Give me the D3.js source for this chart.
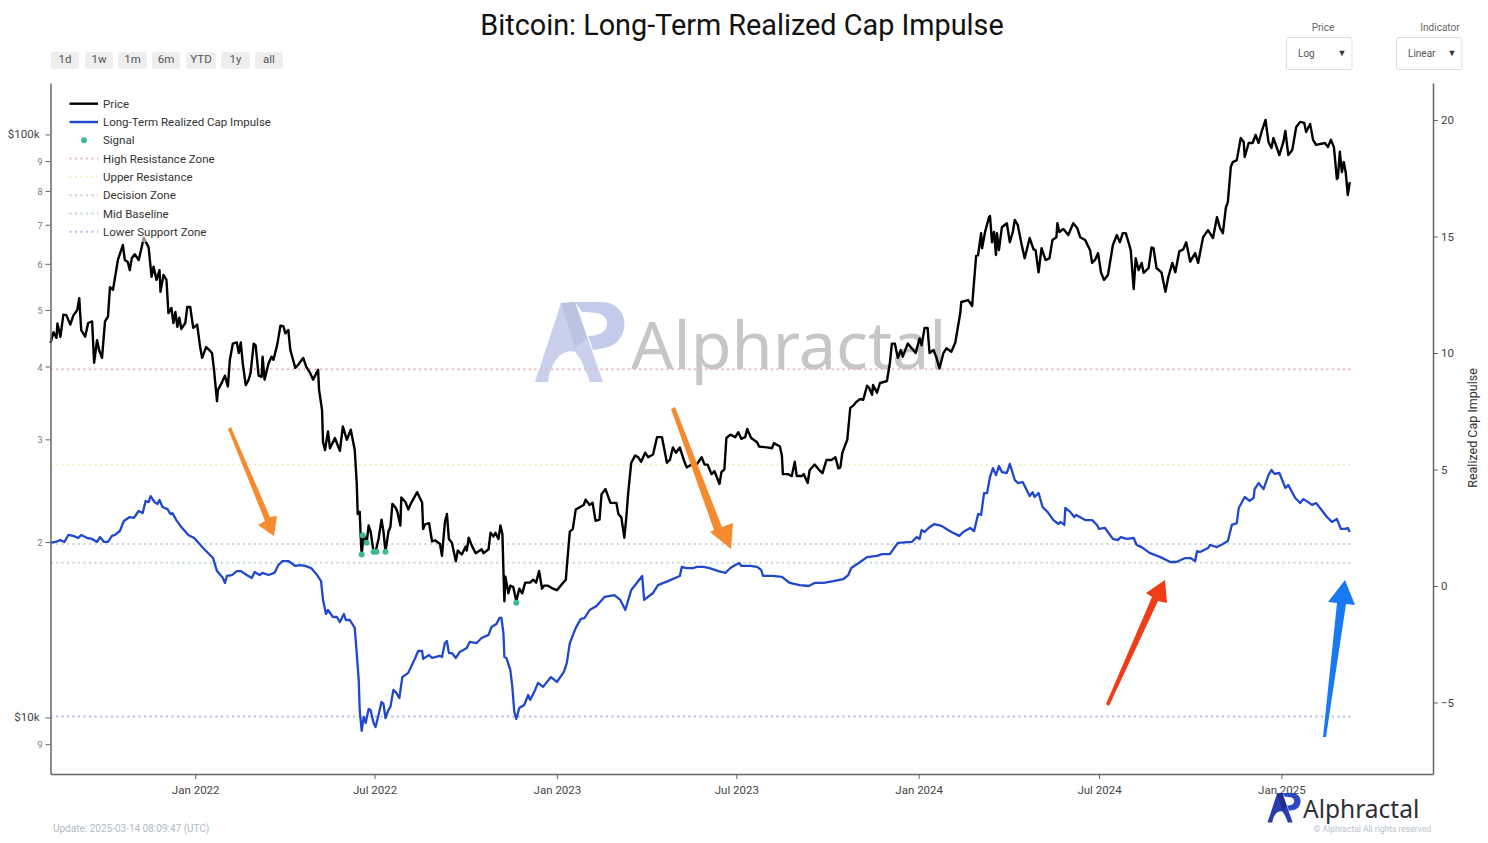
<!DOCTYPE html>
<html>
<head>
<meta charset="utf-8">
<title>Bitcoin: Long-Term Realized Cap Impulse</title>
<script src="https://cdn.jsdelivr.net/npm/d3@7"></script>
<style>
	body { margin: 0; background: #fff; font-family: Roboto, sans-serif; }
	svg { display: block; }
</style>
</head>
<body>
<script>
// Days are counted from 2021-08-08
var startDate = Date.UTC(2021, 7, 8);

// Day, price in $k
var price = [[0,43.8],[3,45.7],[6,44.7],[7,47.3],[10,44.9],[13,49.0],[16,48.9],[20,47.1],[23,48.8],[27,49.9],[29,52.3],[31,46.1],[35,44.9],[38,47.4],[42,47.7],[44,40.5],[47,44.3],[49,42.6],[52,41.3],[55,47.7],[58,48.6],[60,54.6],[63,54.0],[65,56.6],[68,60.8],[73,64.5],[75,60.8],[78,60.3],[80,58.4],[82,61.2],[85,62.2],[89,60.8],[92,63.9],[94,66.4],[99,63.9],[102,56.9],[104,59.2],[107,56.2],[110,58.4],[111,53.6],[114,57.3],[117,56.2],[119,49.3],[122,50.3],[124,47.4],[126,49.5],[128,46.7],[130,48.4],[132,46.3],[136,47.4],[138,50.5],[141,50.5],[144,46.5],[148,47.1],[151,43.1],[153,41.3],[157,43.1],[159,42.8],[163,42.1],[165,39.4],[168,34.8],[169,36.4],[173,37.5],[176,38.5],[179,36.9],[181,41.0],[184,43.7],[188,43.9],[190,42.1],[192,43.9],[194,40.4],[197,37.1],[200,37.9],[202,39.0],[205,43.7],[207,43.4],[210,38.5],[213,38.3],[214,41.5],[216,37.9],[220,40.4],[223,41.5],[225,41.0],[229,43.7],[232,46.9],[235,46.8],[237,45.5],[240,46.1],[242,42.6],[247,39.7],[250,40.2],[255,41.3],[258,39.9],[262,38.9],[265,37.9],[270,39.4],[271,36.4],[274,33.6],[275,29.6],[277,28.7],[280,30.9],[282,28.9],[287,30.1],[292,28.6],[295,31.5],[299,29.9],[303,31.1],[307,28.7],[309,25.2],[310,22.3],[312,22.5],[313,20.4],[314,19.0],[316,20.6],[319,19.9],[321,21.3],[323,20.8],[326,19.2],[328,19.2],[331,20.2],[334,21.8],[336,20.8],[338,19.2],[341,20.8],[343,21.2],[345,23.2],[348,22.9],[350,22.5],[353,21.3],[354,23.8],[358,23.4],[361,22.7],[364,23.3],[370,24.3],[375,23.3],[376,21.0],[378,21.4],[382,21.5],[385,20.0],[388,20.1],[393,19.8],[395,18.9],[398,21.6],[400,22.3],[402,20.2],[405,19.9],[409,18.5],[411,19.3],[415,19.0],[419,19.6],[420,19.3],[422,20.3],[425,19.7],[429,19.1],[435,19.4],[437,19.1],[442,19.4],[444,20.7],[447,20.4],[449,20.7],[452,20.2],[454,21.3],[456,20.6],[457,17.9],[458,15.8],[459,17.4],[462,16.3],[464,16.8],[467,16.7],[470,15.8],[473,16.6],[476,16.3],[479,17.0],[484,17.0],[487,17.2],[490,17.0],[493,17.8],[496,16.6],[498,16.8],[502,16.8],[507,16.6],[511,16.5],[516,16.9],[520,17.2],[521,18.1],[524,20.8],[527,21.0],[530,22.7],[534,22.9],[538,23.1],[540,23.6],[544,23.1],[547,23.3],[550,21.7],[554,21.8],[556,24.1],[560,24.6],[565,23.3],[571,23.3],[573,22.3],[576,22.0],[579,20.3],[581,22.0],[583,24.3],[586,27.3],[590,28.1],[593,27.9],[596,27.4],[600,28.4],[603,27.9],[608,28.2],[612,30.2],[617,30.2],[622,27.3],[625,27.6],[628,29.0],[631,28.4],[635,29.0],[639,27.6],[642,26.8],[647,27.1],[650,26.8],[657,27.9],[660,27.1],[663,27.1],[667,26.1],[670,26.4],[675,25.1],[677,26.3],[680,26.6],[682,30.1],[686,30.5],[691,30.2],[694,30.8],[697,30.0],[701,30.2],[703,31.2],[707,30.1],[713,29.6],[715,29.1],[723,29.0],[728,28.9],[730,29.5],[736,29.1],[738,28.1],[739,26.1],[744,26.1],[748,25.9],[751,27.4],[753,25.9],[758,25.9],[760,26.1],[764,25.2],[766,26.5],[771,27.1],[775,26.6],[779,26.2],[783,27.6],[788,27.6],[792,27.9],[795,26.7],[797,26.8],[799,28.4],[804,29.9],[807,33.9],[810,34.2],[813,34.7],[817,35.1],[820,35.0],[824,37.0],[826,36.7],[829,35.7],[830,37.1],[834,36.0],[837,37.4],[844,37.7],[847,40.5],[849,43.7],[852,43.7],[855,41.3],[858,42.6],[860,41.5],[865,43.7],[869,42.9],[873,42.1],[877,44.6],[879,43.4],[882,46.5],[885,46.5],[887,42.1],[891,42.6],[894,41.3],[897,39.6],[901,42.1],[904,42.9],[909,42.3],[913,43.9],[918,49.3],[919,51.5],[926,51.9],[930,50.7],[931,53.4],[934,61.8],[936,62.0],[939,67.6],[940,63.7],[943,67.9],[947,72.0],[948,72.3],[950,65.2],[952,67.9],[954,62.0],[955,67.6],[957,63.2],[960,69.2],[965,70.3],[968,65.2],[971,67.9],[973,71.2],[976,69.8],[980,64.5],[983,61.2],[988,66.3],[992,63.4],[994,63.2],[997,57.9],[1000,63.7],[1004,60.8],[1008,61.2],[1011,65.8],[1015,66.5],[1016,70.3],[1018,67.9],[1022,68.7],[1027,67.1],[1032,70.3],[1036,69.0],[1039,66.5],[1044,65.8],[1049,63.2],[1051,60.1],[1054,60.8],[1057,62.5],[1060,57.9],[1063,56.2],[1067,57.3],[1072,64.5],[1076,67.1],[1079,65.2],[1082,67.6],[1085,67.6],[1088,65.0],[1090,63.2],[1093,54.2],[1095,61.2],[1098,58.4],[1101,60.1],[1103,57.8],[1108,58.9],[1111,63.9],[1113,63.7],[1116,58.9],[1121,57.9],[1125,53.6],[1128,56.9],[1132,60.1],[1135,57.9],[1139,62.9],[1143,63.4],[1146,65.2],[1150,60.4],[1155,62.5],[1158,60.1],[1163,66.5],[1168,68.4],[1173,66.3],[1177,72.0],[1180,69.0],[1183,67.6],[1186,74.8],[1188,76.4],[1191,87.8],[1193,89.5],[1197,90.2],[1201,98.4],[1204,96.9],[1205,91.3],[1209,96.5],[1213,96.5],[1216,99.6],[1219,96.5],[1222,100.8],[1226,105.7],[1229,96.9],[1232,94.6],[1234,98.4],[1240,92.0],[1244,96.9],[1246,101.2],[1249,92.0],[1253,93.9],[1257,102.8],[1261,104.9],[1265,104.5],[1267,100.8],[1271,104.0],[1274,97.7],[1277,95.8],[1286,96.5],[1289,95.0],[1292,97.7],[1295,95.0],[1298,83.7],[1299,84.1],[1301,93.2],[1303,86.0],[1305,89.5],[1307,85.7],[1309,78.6],[1311,82.7]];

// Day, realized cap impulse
var impulse = [[0,1.85],[5,1.89],[10,1.97],[14,1.89],[18,2.19],[23,2.15],[28,2.06],[31,2.19],[37,2.06],[42,2.02],[47,1.89],[50,2.10],[54,1.89],[58,1.89],[62,2.15],[65,2.19],[70,2.36],[74,2.79],[80,2.96],[84,2.92],[89,3.22],[93,3.13],[96,3.65],[99,3.60],[101,3.86],[105,3.60],[108,3.52],[110,3.69],[113,3.39],[118,3.30],[121,3.09],[123,3.13],[127,2.83],[132,2.53],[139,2.19],[145,2.06],[154,1.63],[164,1.20],[168,0.64],[174,0.34],[176,0.13],[178,0.43],[183,0.47],[188,0.64],[192,0.64],[198,0.47],[203,0.34],[206,0.60],[211,0.47],[214,0.56],[220,0.47],[226,0.56],[230,0.90],[234,1.07],[240,1.07],[247,0.86],[252,0.90],[257,0.86],[263,0.77],[269,0.47],[273,0.21],[275,-0.60],[278,-1.20],[280,-1.03],[285,-1.33],[289,-1.33],[292,-1.55],[296,-1.20],[298,-1.46],[302,-1.46],[307,-1.80],[309,-2.88],[311,-4.03],[312,-5.32],[314,-6.22],[316,-5.62],[318,-5.88],[321,-5.28],[323,-5.32],[326,-5.88],[328,-6.05],[331,-5.54],[334,-4.98],[336,-5.06],[338,-5.67],[341,-5.32],[343,-5.19],[346,-4.46],[349,-4.59],[352,-4.81],[355,-3.91],[361,-3.73],[368,-3.09],[371,-2.79],[375,-2.79],[376,-3.13],[382,-2.96],[385,-3.09],[393,-3.00],[395,-3.05],[398,-2.45],[400,-2.36],[402,-2.88],[405,-2.88],[409,-3.09],[413,-2.83],[420,-2.66],[423,-2.40],[430,-2.45],[435,-2.23],[442,-2.10],[445,-1.76],[450,-1.63],[453,-1.37],[455,-1.37],[457,-2.02],[458,-3.05],[460,-3.09],[464,-3.61],[466,-4.33],[468,-5.41],[470,-5.71],[473,-5.24],[478,-5.11],[482,-4.68],[484,-4.89],[489,-4.46],[492,-4.16],[497,-4.33],[505,-3.91],[511,-4.12],[518,-3.69],[521,-3.30],[524,-2.45],[530,-1.80],[535,-1.42],[539,-1.37],[544,-1.03],[551,-0.86],[559,-0.47],[569,-0.39],[575,-0.60],[580,-1.03],[586,-0.17],[590,0.04],[597,0.43],[599,-0.60],[608,-0.30],[613,0.04],[623,0.21],[635,0.43],[637,0.82],[642,0.77],[649,0.77],[652,0.82],[659,0.82],[665,0.77],[674,0.64],[681,0.56],[686,0.77],[691,0.90],[695,0.99],[697,0.86],[706,0.86],[713,0.82],[717,0.69],[719,0.43],[729,0.43],[738,0.39],[746,0.13],[756,0.04],[765,0],[771,0.13],[780,0.13],[790,0.21],[800,0.30],[805,0.47],[808,0.77],[817,1.03],[824,1.24],[834,1.29],[839,1.37],[847,1.37],[852,1.67],[855,1.85],[869,1.89],[874,2.10],[877,2.02],[879,2.40],[882,2.32],[886,2.49],[892,2.66],[899,2.58],[904,2.45],[909,2.32],[917,2.15],[921,2.32],[928,2.49],[932,2.36],[936,3.09],[939,3.05],[942,3.99],[945,3.99],[948,4.68],[951,5.06],[954,4.76],[957,5.15],[960,4.89],[965,4.85],[968,5.24],[973,4.55],[976,4.42],[981,4.46],[988,3.86],[991,4.03],[993,3.82],[997,3.99],[1001,3.39],[1006,3.18],[1012,2.83],[1017,2.66],[1019,2.75],[1023,2.62],[1024,3.35],[1029,3.18],[1033,2.96],[1035,3.05],[1044,2.83],[1051,2.83],[1056,2.62],[1058,2.45],[1064,2.49],[1072,2.02],[1077,1.97],[1080,2.10],[1086,2.02],[1093,2.06],[1096,1.76],[1101,1.67],[1109,1.42],[1120,1.24],[1130,1.03],[1136,1.03],[1145,1.20],[1150,1.20],[1155,1.07],[1157,1.50],[1160,1.46],[1168,1.63],[1170,1.76],[1177,1.67],[1183,1.80],[1188,1.93],[1192,2.62],[1197,2.70],[1199,3.35],[1205,3.82],[1210,3.65],[1214,3.78],[1215,4.16],[1219,4.42],[1224,4.16],[1229,4.76],[1232,4.98],[1235,4.81],[1240,4.85],[1246,4.21],[1249,4.33],[1256,3.78],[1261,3.56],[1264,3.73],[1269,3.60],[1273,3.48],[1277,3.56],[1281,3.35],[1288,2.96],[1293,2.75],[1298,2.88],[1302,2.45],[1306,2.45],[1309,2.49],[1311,2.32]];

// Day, price of the signal points
var signals = [[314,19.0],[315,20.5],[319,19.9],[326,19.2],[329,19.2],[338,19.2],[470,15.7]];

// Name, color, level on the indicator axis
var zones = [["High Resistance Zone", "#f0b4c4", 9.3],
			 ["Upper Resistance",     "#eef0c4", 5.2],
			 ["Decision Zone",        "#d2cfd6", 1.8],
			 ["Mid Baseline",         "#bfd8cf", 1.0],
			 ["Lower Support Zone",   "#b9b6e6", -5.6]];

// Config
var width = 1488;
var height = 843;
var left = 50.5, right = 1433, top_ = 83, bottom = 774;
var priceColor = "#000";
var impulseColor = "#1f48cc";
var signalColor = "#3dbb8e";

function dayToDate(d){
	return new Date(startDate + d*86400000);
}

var svg = d3.select("body").append("svg")
			.attr("width", width)
			.attr("height", height);

// Scales
var x = d3.scaleUtc()
		  .domain([dayToDate(0), new Date(Date.UTC(2025, 5, 3))])
		  .range([left, right]);
var yPrice = d3.scaleLog().domain([7.985, 122.3]).range([bottom, top_]);
var yImpulse = d3.scaleLinear().domain([-8.07, 21.59]).range([bottom, top_]);

// The AP logo, used for the watermark and the footer
function logo(parent, tx, ty, s, colorA, colorP, colorB){
	var g = parent.append("g").attr("transform", "translate(" + tx + "," + ty + ") scale(" + s + ")");
	g.append("path").attr("fill", colorP)
	 .attr("d", "M40,0 L66,0 C86,0 94,18 87,33 C81,45 71,46 58,48 L53,34 C66,34 73,28 72,20 C71,12 62,10 47,10 Z");
	g.append("path").attr("fill", colorA)
	 .attr("d", "M0,80 C1,76 3,70 5,65 L26,1 L40,0 L68,80 L55,80 C50,66 46,56 40,50 C30,46 16,56 13,80 Z");
	g.append("path").attr("fill", colorB)
	 .attr("d", "M26,1 L40,0 L52,36 L40,46 Z");
}

// Watermark
logo(svg, 535, 302, 1.0, "#c9d0ec", "#c3cbea", "#bcc3e0");
svg.append("text")
   .attr("x", 631).attr("y", 369)
   .attr("font-family", "'Noto Sans'")
   .attr("font-size", 66.5)
   .attr("fill", "#c6c6c6")
   .text("Alphractal");

// Zones
var lineZone = d3.line().x(function(d){ return x(dayToDate(d[0])); }).y(function(d){ return yImpulse(d[1]); });
zones.forEach(function(z){
	svg.append("path")
	   .attr("d", lineZone([[0, z[2]], [1313, z[2]]]))
	   .attr("fill", "none")
	   .attr("stroke", z[1])
	   .attr("stroke-width", 2)
	   .attr("stroke-dasharray", "2,3.5");
});

// Price and impulse
var linePrice = d3.line().x(function(d){ return x(dayToDate(d[0])); }).y(function(d){ return yPrice(d[1]); });
svg.append("path")
   .attr("d", linePrice(price))
   .attr("fill", "none")
   .attr("stroke", priceColor)
   .attr("stroke-width", 2.4)
   .attr("stroke-linejoin", "round");
svg.append("path")
   .attr("d", lineZone(impulse))
   .attr("fill", "none")
   .attr("stroke", impulseColor)
   .attr("stroke-width", 2.3)
   .attr("stroke-linejoin", "round");

// Signals
svg.selectAll("circle.signal").data(signals).enter().append("circle")
   .attr("class", "signal")
   .attr("cx", function(d){ return x(dayToDate(d[0])); })
   .attr("cy", function(d){ return yPrice(d[1]); })
   .attr("r", 3)
   .attr("fill", signalColor);

// Arrows drawn over the chart
var arrows = [["#f68a2f", "228,429 231,427 270,517 277,516 274,536 258,525 265,521"],
			  ["#f68a2f", "671,409 675,407 722,527 733,523 731,549 710,532 714,530"],
			  ["#f03c17", "1106,704 1109,706 1158,601 1167,603 1165,580 1146,593 1152,597"],
			  ["#1a78f2", "1323,737 1326,737 1346,604 1355,605 1345,580 1328,602 1337,603"]];
arrows.forEach(function(a){
	svg.append("polygon").attr("points", a[1]).attr("fill", a[0]);
});

// Axes
function styleAxis(g, size, color){
	g.selectAll("text").attr("font-family", "Roboto").attr("font-size", size).attr("fill", color);
	g.selectAll("line").attr("stroke", "#666");
	g.select(".domain").attr("stroke", "#666").attr("stroke-width", 1.5);
}

var gLeft = svg.append("g").attr("transform", "translate(" + left + ",0)")
	.call(d3.axisLeft(yPrice)
			.tickValues([100,90,80,70,60,50,40,30,20,10,9])
			.tickSize(5).tickSizeOuter(0)
			.tickFormat(function(d){ return (d == 100 || d == 10) ? "$" + d + "k" : (d >= 20 ? d/10 : d); }));
styleAxis(gLeft, 9, "#777");
gLeft.selectAll(".tick text").attr("dy", "0.45em");
gLeft.selectAll(".tick line").attr("transform", "translate(0,0.5)");
gLeft.selectAll(".tick text").filter(function(d){ return d == 100 || d == 10; })
	 .attr("font-size", 11.5).attr("fill", "#444").attr("dx", -3).attr("dy", "0.32em");

var gRight = svg.append("g").attr("transform", "translate(" + right + ",0)")
	.call(d3.axisRight(yImpulse).tickValues([-5,0,5,10,15,20]).tickSize(5).tickSizeOuter(0));
styleAxis(gRight, 11.5, "#444");

var gBottom = svg.append("g").attr("transform", "translate(0," + bottom + ")")
	.call(d3.axisBottom(x)
			.tickValues([0,1,2,3,4,5,6].map(function(i){ return new Date(Date.UTC(2022 + Math.floor(i/2), i%2*6, 1)); }))
			.tickSize(5).tickSizeOuter(0)
			.tickFormat(d3.utcFormat("%b %Y")));
styleAxis(gBottom, 11.5, "#444");
gBottom.selectAll("text").attr("dy", "1.05em");

svg.append("text")
   .attr("transform", "translate(1477,428) rotate(-90)")
   .attr("text-anchor", "middle")
   .attr("font-size", 12.5)
   .attr("fill", "#333")
   .text("Realized Cap Impulse");

// Title
svg.append("text")
   .attr("x", 742).attr("y", 35)
   .attr("text-anchor", "middle")
   .attr("font-size", 28.8)
   .attr("fill", "#111")
   .text("Bitcoin: Long-Term Realized Cap Impulse");

// Range buttons
var buttons = [["1d",51,79],["1w",85,113],["1m",118,147],["6m",152,180],["YTD",186,216],["1y",221,250],["all",255,283]];
buttons.forEach(function(b){
	svg.append("rect").attr("x", b[1]).attr("y", 52).attr("width", b[2]-b[1]).attr("height", 17)
	   .attr("rx", 3).attr("fill", "#eeeeee");
	svg.append("text").attr("x", (b[1]+b[2])/2).attr("y", 63).attr("text-anchor", "middle")
	   .attr("font-size", 11.5).attr("fill", "#555").text(b[0]);
});

// Scale selectors
var selectors = [["Price","Log",1286],["Indicator","Linear",1396]];
selectors.forEach(function(s){
	svg.append("text").attr("x", s[2]+(s[0] == "Price" ? 37 : 44)).attr("y", 31).attr("text-anchor", "middle")
	   .attr("font-size", 10).attr("fill", "#666").text(s[0]);
	svg.append("rect").attr("x", s[2]+0.5).attr("y", 37.5).attr("width", 65.5).attr("height", 32)
	   .attr("rx", 2).attr("fill", "#fff").attr("stroke", "#ddd").attr("stroke-width", 1);
	svg.append("text").attr("x", s[2]+12).attr("y", 57).attr("font-size", 10).attr("fill", "#555").text(s[1]);
	svg.append("text").attr("x", s[2]+56).attr("y", 56).attr("text-anchor", "middle")
	   .attr("font-size", 9).attr("fill", "#333").text("\u25BC");
});

// Legend
svg.append("rect").attr("x", 62).attr("y", 94).attr("width", 218).attr("height", 148)
   .attr("fill", "#fff").attr("fill-opacity", 0.6);
var legendItems = [["Price", priceColor, "line"],
				   ["Long-Term Realized Cap Impulse", impulseColor, "line"],
				   ["Signal", signalColor, "dot"]];
zones.forEach(function(z){ legendItems.push([z[0], z[1], "zone"]); });
legendItems.forEach(function(item, i){
	var ly = 103.7 + i*18.3;
	if(item[2] == "dot"){
		svg.append("circle").attr("cx", 84).attr("cy", ly).attr("r", 3).attr("fill", item[1]);
	} else {
		svg.append("line").attr("x1", 69.5).attr("x2", 98).attr("y1", ly).attr("y2", ly)
		   .attr("stroke", item[1])
		   .attr("stroke-width", item[2] == "line" ? 2.4 : 2)
		   .attr("stroke-dasharray", item[2] == "line" ? null : "2,3.5");
	}
	svg.append("text").attr("x", 103).attr("y", ly+4).attr("font-size", 11.5).attr("fill", "#333").text(item[0]);
});

// Footer
svg.append("text").attr("x", 53).attr("y", 832).attr("font-size", 10).attr("fill", "#b0bac4")
   .text("Update: 2025-03-14 08:09:47 (UTC)");
logo(svg, 1267.5, 793, 0.37, "#2a3db0", "#2f49c4", "#1f2c8c");
svg.append("text").attr("x", 1303).attr("y", 817.5)
   .attr("font-family", "'Noto Sans'").attr("font-size", 24.5).attr("fill", "#2b2f38")
   .text("Alphractal");
svg.append("text").attr("x", 1431).attr("y", 832).attr("text-anchor", "end")
   .attr("font-size", 8.5).attr("fill", "#b8c1ca")
   .text("\u00A9 Alphractal All rights reserved");
</script>
</body>
</html>
